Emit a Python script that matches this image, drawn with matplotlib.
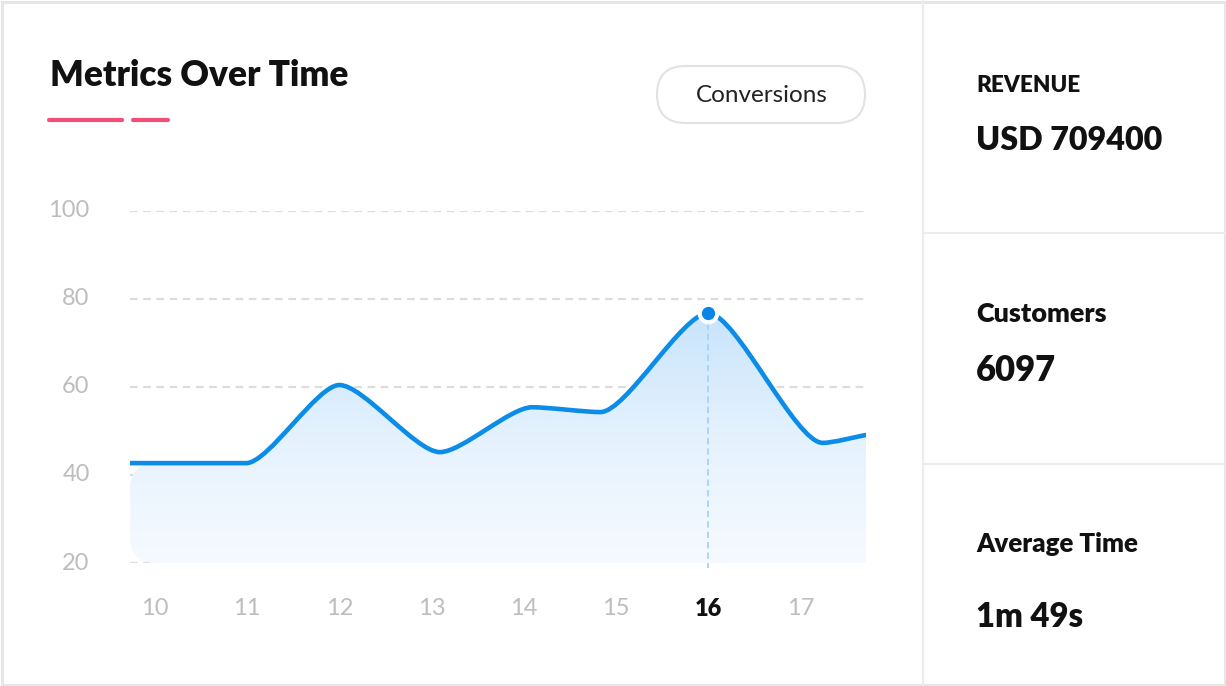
import numpy as np
import matplotlib
matplotlib.use("Agg")
import matplotlib.pyplot as plt
from matplotlib.path import Path
from matplotlib.patches import PathPatch, FancyBboxPatch, Rectangle
from matplotlib.lines import Line2D
from matplotlib.colors import LinearSegmentedColormap

plt.rcParams['font.family'] = ['Lato', 'DejaVu Sans']
plt.rcParams['lines.scale_dashes'] = False

# ---------------- data ----------------
title = "Metrics Over Time"
button_label = "Conversions"
day_ticks = [10, 11, 12, 13, 14, 15, 16, 17]
day_labels = ['10', '11', '12', '13', '14', '15', '16', '17']
y_ticks = [20, 40, 60, 80, 100]
y_labels = ['20', '40', '60', '80', '100']
point_x = [9.73, 10.99, 12.0, 13.09, 14.09, 14.83, 16.0, 17.24, 17.71]
conversions = [42.7, 42.7, 60.45, 45.2, 55.4, 54.3, 76.8, 47.3, 49.1]
highlight_idx = 6
highlight_day = 16
metric_names = ["REVENUE", "Customers", "Average Time"]
metric_values = ["USD 709400", "6097", "1m 49s"]

# ---------------- figure ----------------
W, H = 1226, 686
fig = plt.figure(figsize=(W / 100, H / 100), dpi=100)
fig.patch.set_facecolor('white')

LINE_C = '#0b8ce9'
GRID_C = '#dcdcdc'
TICK_C = '#bdbdbd'

ax = fig.add_axes([130 / W, (H - 563) / H, 736 / W, 352 / H])
ax.set_facecolor('none')

K = 0.24  # control-point spacing (fraction of interval)


def smooth_path(xs, ys):
    xs = np.asarray(xs, float)
    ys = np.asarray(ys, float)
    n = len(xs)
    d = np.diff(ys) / np.diff(xs)
    m = np.zeros(n)
    m[0] = d[0]
    m[-1] = d[-1]
    for i in range(1, n - 1):
        if d[i - 1] * d[i] <= 0:
            m[i] = 0.0
        else:
            m[i] = 2.0 / (1.0 / d[i - 1] + 1.0 / d[i])
    verts = []
    codes = []
    for i in range(n - 1):
        h = xs[i + 1] - xs[i]
        verts += [(xs[i] + K * h, ys[i] + m[i] * K * h),
                  (xs[i + 1] - K * h, ys[i + 1] - m[i + 1] * K * h),
                  (xs[i + 1], ys[i + 1])]
        codes += [Path.CURVE4] * 3
    return verts, codes


seg_v, seg_c = smooth_path(point_x, conversions)

# line
line_path = Path([(point_x[0], conversions[0])] + seg_v, [Path.MOVETO] + seg_c)

# area with rounded left corners
base = y_ticks[0]
x0, y0 = point_x[0], conversions[0]
xe, ye = point_x[-1], conversions[-1]
r_px = 26
rx = r_px / (736 / (point_x[-1] - point_x[0]))
ry = r_px / (352 / (y_ticks[-1] - y_ticks[0]))
av = [(xe, base), (x0 + rx, base), (x0, base), (x0, base + ry), (x0, y0 - ry),
      (x0, y0), (x0 + rx, y0)]
ac = [Path.MOVETO, Path.LINETO, Path.CURVE3, Path.CURVE3, Path.LINETO,
      Path.CURVE3, Path.CURVE3]
av += [(point_x[1], conversions[1])]
ac += [Path.LINETO]
av += seg_v[3:]
ac += seg_c[3:]
av += [(xe, base), (xe, base)]
ac += [Path.LINETO, Path.CLOSEPOLY]
area_path = Path(av, ac)
area_patch = PathPatch(area_path, facecolor='none', edgecolor='none')
ax.add_patch(area_patch)

cmap = LinearSegmentedColormap.from_list('fade', ['#f6faff', '#e5f2fe', '#c8e4fc'])
grad = np.linspace(0, 1, 256).reshape(-1, 1)
im = ax.imshow(grad, extent=(x0, xe, base, max(conversions)), aspect='auto',
               cmap=cmap, origin='lower', zorder=1, interpolation='bicubic')
im.set_clip_path(area_patch)

# highlight vertical line
ax.plot([point_x[highlight_idx]] * 2, [conversions[highlight_idx], base - 1.2],
        color='#a6d3f6', lw=1.3, dashes=(4.5, 3), zorder=2, clip_on=False)

ax.add_patch(PathPatch(line_path, facecolor='none', edgecolor=LINE_C, lw=3.3,
                       capstyle='round', joinstyle='round', zorder=3))

ax.plot([point_x[highlight_idx]], [conversions[highlight_idx]], 'o', ms=12.6,
        mfc='#0a84e6', mec='white', mew=3.0, zorder=4, clip_on=False)

ax.set_xlim(point_x[0], point_x[-1])
ax.set_ylim(y_ticks[0], y_ticks[-1])
ax.set_xticks(day_ticks)
ax.set_xticklabels(day_labels)
ax.set_yticks(y_ticks)
ax.set_yticklabels(y_labels)
ax.yaxis.grid(True, color=GRID_C, lw=1.6, dashes=(5.5, 4))
ax.set_axisbelow(True)
for s in ax.spines.values():
    s.set_visible(False)
ax.tick_params(axis='both', length=0, colors=TICK_C, labelsize=17)
ax.tick_params(axis='x', pad=25)
ax.tick_params(axis='y', pad=29)
for lbl in ax.get_yticklabels():
    lbl.set_verticalalignment('center')
for lbl in ax.get_xticklabels():
    if lbl.get_text() == str(highlight_day):
        lbl.set_color('#111111')
        lbl.set_fontweight('heavy')

# ---------------- overlay (pixel coords) ----------------
ov = fig.add_axes([0, 0, 1, 1])
ov.set_xlim(0, W)
ov.set_ylim(H, 0)
ov.axis('off')
ov.patch.set_alpha(0)

ov.add_patch(Rectangle((1.5, 1.5), W - 3, H - 3, fill=False, ec='#e6e6e6', lw=2.2))
ov.add_line(Line2D([923, 923], [0, H], color='#ececec', lw=1.5))
ov.add_line(Line2D([924, W], [233, 233], color='#ececec', lw=1.5))
ov.add_line(Line2D([924, W], [464, 464], color='#ececec', lw=1.5))

ov.add_line(Line2D([49, 122], [120, 120], color='#f44e78', lw=3.0, solid_capstyle='round'))
ov.add_line(Line2D([133, 168], [120, 120], color='#f44e78', lw=3.0, solid_capstyle='round'))

ov.add_patch(FancyBboxPatch((657, 66), 208, 57, boxstyle="round,pad=0,rounding_size=28.5",
                            fc='white', ec='#e2e2e2', lw=1.5))

renderer = fig.canvas.get_renderer()


def fit_text(x, y, s, width_px, **kw):
    t = ov.text(x, y, s, fontsize=20, **kw)
    w = t.get_window_extent(renderer).width
    t.set_fontsize(20 * width_px / w)
    return t


fit_text(50, 86, title, 299, fontweight='heavy', color='#111111', va='baseline')
fit_text(762, 95, button_label, 132, color='#222222', ha='center', va='center')

name_pos = [(92, 104), (322, 131), (552, 162)]
value_pos = [(150, 186), (381, 80), (627, 107)]
for nm, (yb, w), val, (yv, wv) in zip(metric_names, name_pos, metric_values, value_pos):
    fit_text(976, yb, nm, w, fontweight='heavy', color='#111111', va='baseline')
    fit_text(976, yv, val, wv, fontweight='heavy', color='#111111', va='baseline')

fig.savefig('out.png', dpi=100, facecolor='white')
